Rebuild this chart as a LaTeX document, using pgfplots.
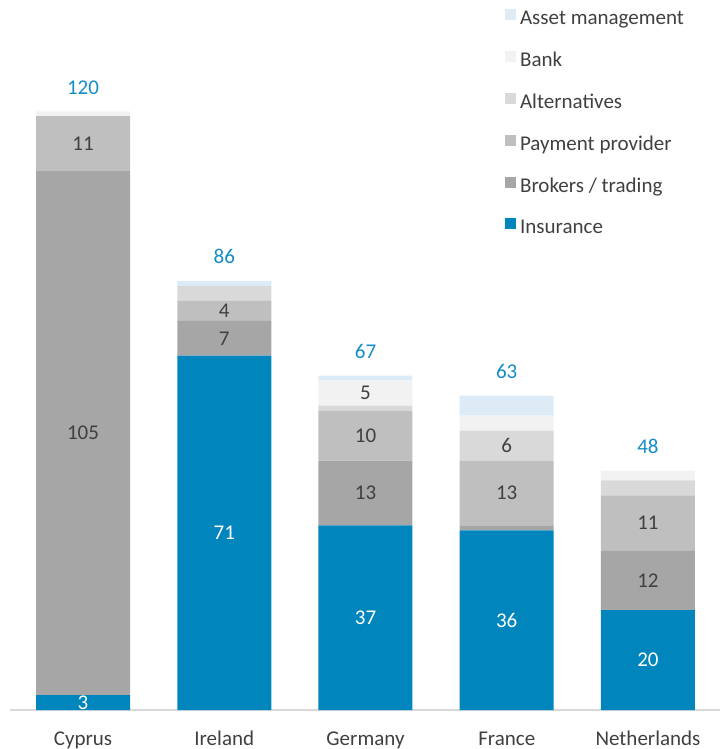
\documentclass[border=0pt]{standalone}
\usepackage{fontspec}
\setmainfont{Carlito}
\usepackage{pgfplots}
\usepackage{pgfplotstable}
\pgfplotsset{compat=1.18}
\definecolor{ins}{RGB}{0,133,189}
\definecolor{brk}{RGB}{166,166,166}
\definecolor{pay}{RGB}{191,191,191}
\definecolor{alt}{RGB}{217,217,217}
\definecolor{bank}{RGB}{242,242,242}
\definecolor{asset}{RGB}{221,235,247}
\definecolor{tot}{RGB}{20,140,200}
\definecolor{labgray}{RGB}{64,64,64}
\definecolor{axgray}{RGB}{217,217,217}
\pgfplotstableread[col sep=comma]{
x,ins,insL,brk,brkL,pay,payL,alt,altL,bank,bankL,asset,assetL,zero,total
0,3,3,105,105,11,11,0,,1,,0,,0.001,120
1,71,71,7,7,4,4,3,,0,,1,,0.001,86
2,37,37,13,13,10,10,1,,5,5,1,,0.001,67
3,36,36,1,,13,13,6,6,3,,4,,0.001,63
4,20,20,12,12,11,11,3,,2,,0,,0.001,48
}\datatable
\begin{document}
\begin{tikzpicture}[font=\fontsize{21}{25}\selectfont]
\begin{axis}[
  scale only axis, width=710pt, height=710pt,
  ybar stacked, bar width=94pt,
  xmin=-0.517, xmax=4.51, ymin=0, ymax=142.3,
  axis x line*=bottom, axis y line=none,
  x axis line style={draw=axgray, line width=1.5pt, -},
  xtick={0,1,2,3,4},
  xticklabels={Cyprus,Ireland,Germany,France,Netherlands},
  major tick length=0pt,
  xticklabel style={text=labgray, inner sep=0pt, text height=15pt, text depth=5pt, yshift=-20pt},
  ytick=\empty,
  clip=false,
  point meta=explicit symbolic,
  nodes near coords,
  every node near coord/.append style={text=labgray, inner sep=0pt},
  reverse legend,
  legend style={draw=none, fill=none, at={(0.697,0.987)}, anchor=north west,
    cells={anchor=west}, row sep=21.3pt, column sep=4pt, inner sep=0pt,
    nodes={inner sep=0pt, text height=15pt, text depth=5pt, text=labgray}},
  legend image code/.code={\fill[#1] (0pt,-0.5pt) rectangle (11pt,10.5pt);},
]
\addplot[fill=ins, draw=none, every node near coord/.append style={text=white}] table[x=x, y=ins, meta=insL] {\datatable};
\addlegendentry{Insurance}
\addplot[fill=brk, draw=none] table[x=x, y=brk, meta=brkL] {\datatable};
\addlegendentry{Brokers / trading}
\addplot[fill=pay, draw=none] table[x=x, y=pay, meta=payL] {\datatable};
\addlegendentry{Payment provider}
\addplot[fill=alt, draw=none] table[x=x, y=alt, meta=altL] {\datatable};
\addlegendentry{Alternatives}
\addplot[fill=bank, draw=none] table[x=x, y=bank, meta=bankL] {\datatable};
\addlegendentry{Bank}
\addplot[fill=asset, draw=none] table[x=x, y=asset, meta=assetL] {\datatable};
\addlegendentry{Asset management}
\addplot[forget plot, draw=none, fill=none, every node near coord/.append style={text=tot, anchor=base, yshift=17pt}] table[x=x, y=zero, meta=total] {\datatable};
\end{axis}
\pgfresetboundingbox
\path (-10pt,-39pt) rectangle (714pt,710pt);
\end{tikzpicture}
\end{document}
